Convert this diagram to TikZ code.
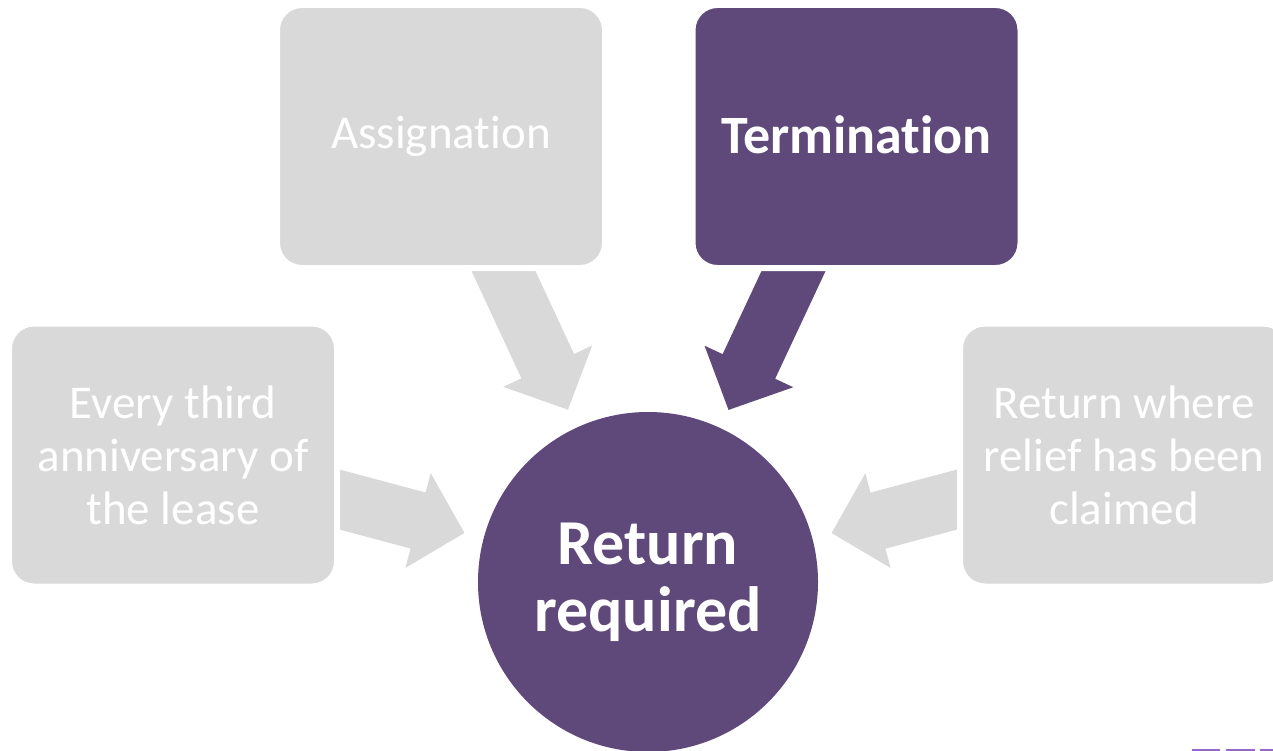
\documentclass[tikz,border=0pt]{standalone}
\usepackage{fontspec}
\setmainfont{Carlito}[Ligatures=NoCommon]
\usepackage{tikz}
\usetikzlibrary{calc,positioning}
\definecolor{plum}{HTML}{5F497A}
\definecolor{lightgrey}{HTML}{D9D9D9}
\definecolor{logopurple}{HTML}{9966CC}
\pgfdeclarelayer{back}
\pgfsetlayers{back,main}
\tikzset{
	grey box/.style={
		draw=white, line width=6pt, fill=lightgrey, rounded corners=25pt,
		minimum width=328pt, minimum height=263pt, inner sep=0pt,
		align=center, text=white, font=\fontsize{47}{53}\selectfont
	},
	dark box/.style={grey box, fill=plum, font=\fontsize{54}{60}\selectfont\bfseries},
	result/.style={
		circle, fill=plum, minimum size=340pt, inner sep=0pt,
		align=center, text=white, font=\fontsize{64}{67}\selectfont\bfseries
	}
}
% block arrow from a box towards the circle: #1 box, #2 circle, #3 colour
\newcommand{\blockarrow}[3]{%
	\path ($(#2)!190pt!(#1)$) coordinate (tip)
		($(#2)!238pt!(#1)$) coordinate (base)
		($(#2)!400pt!(#1)$) coordinate (tail);
	\fill[#3] ($(tail)!29pt!90:(tip)$) -- ($(base)!29pt!90:(tip)$) -- ($(base)!49pt!90:(tip)$)
		-- (tip) -- ($(base)!49pt!-90:(tip)$) -- ($(base)!29pt!-90:(tip)$) -- ($(tail)!29pt!-90:(tip)$) -- cycle;
}

\begin{document}
\begin{tikzpicture}[x=1pt, y=-1pt]
		\useasboundingbox (0,0) rectangle (1273,751);
		\clip (0,0) rectangle (1273,751);
		
		\node[grey box] (assign) at (441,136.5) {Assignation};
		\node[dark box] (term) at (856.5,136.5) {\raisebox{3pt}{Termination}};
		\node[grey box] (third) at (173,455) {Every third\\anniversary of\\the lease};
		\node[grey box] (relief) at (1124,455) {Return where\\relief has been\\claimed};
		
		\node[result] (ret) at (648,582) {Return\\required};
		
		\begin{pgfonlayer}{back}
			\fill[white] (0,0) rectangle (1273,751);
			\blockarrow{assign}{ret}{lightgrey}
			\blockarrow{term}{ret}{plum}
			\blockarrow{third}{ret}{lightgrey}
			\blockarrow{relief}{ret}{lightgrey}
		\end{pgfonlayer}
		
		% bit of the logo in the corner
		\fill[logopurple] (1192,749) rectangle (1220,751);
		\fill[logopurple] (1226,749) rectangle (1255,751);
		\fill[logopurple] (1260,749) rectangle (1273,751);
	\end{tikzpicture}
\end{document}
